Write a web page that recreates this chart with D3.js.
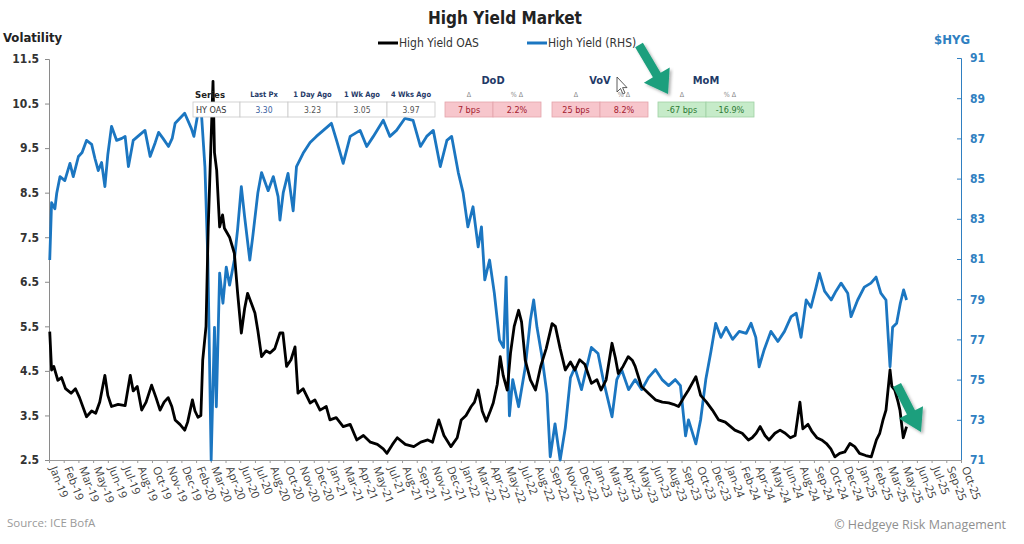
<!DOCTYPE html>
<html>
<head>
<meta charset="utf-8">
<script src="https://cdn.jsdelivr.net/npm/d3@7"></script>
<style>
  body { margin: 0; background: #fff; }
  svg { display: block; }
  .cond { font-family: "Liberation Sans Narrow", "DejaVu Sans Condensed", Roboto, sans-serif; }
  .reg { font-family: "Open Sans", "Noto Sans", sans-serif; }
</style>
</head>
<body>
<script>
const width = 1024;
const height = 544;

// High Yield OAS (left axis)
const oasData = [
  ["2019-01-04",5.38],["2019-01-09",4.52],["2019-01-15",4.6],["2019-01-26",4.29],["2019-02-05",4.35],
  ["2019-02-16",4.1],["2019-03-03",4.0],["2019-03-15",4.1],["2019-03-26",3.9],["2019-04-14",3.47],
  ["2019-04-28",3.6],["2019-05-09",3.55],["2019-05-20",3.8],["2019-06-03",4.4],["2019-06-11",3.95],
  ["2019-06-21",3.7],["2019-07-09",3.75],["2019-07-28",3.72],["2019-08-11",4.4],["2019-08-19",4.05],
  ["2019-08-30",4.15],["2019-09-11",3.62],["2019-09-23",3.8],["2019-10-08",4.18],["2019-10-20",3.9],
  ["2019-10-31",3.62],["2019-11-11",3.8],["2019-11-22",3.9],["2019-12-02",3.7],["2019-12-11",3.4],
  ["2019-12-24",3.3],["2020-01-06",3.17],["2020-01-14",3.35],["2020-01-27",3.85],["2020-02-03",3.6],
  ["2020-02-11",3.46],["2020-02-19",3.5],["2020-02-24",4.74],["2020-03-04",5.5],["2020-03-10",7.73],
  ["2020-03-17",9.5],["2020-03-23",11.0],["2020-03-27",9.4],["2020-04-02",9.0],["2020-04-10",7.73],
  ["2020-04-18",8.0],["2020-04-23",7.7],["2020-05-07",7.5],["2020-05-20",7.14],["2020-05-29",6.24],
  ["2020-06-08",5.35],["2020-06-17",5.9],["2020-06-25",6.24],["2020-07-06",6.0],["2020-07-15",5.8],
  ["2020-07-23",5.4],["2020-08-02",4.82],["2020-08-14",4.95],["2020-08-25",4.9],["2020-09-07",5.0],
  ["2020-09-21",5.35],["2020-09-29",5.35],["2020-10-09",4.6],["2020-10-21",4.75],["2020-11-01",5.04],
  ["2020-11-09",4.0],["2020-11-23",4.1],["2020-12-12",3.78],["2020-12-25",3.85],["2021-01-08",3.62],
  ["2021-01-25",3.7],["2021-02-04",3.4],["2021-02-21",3.45],["2021-03-12",3.25],["2021-03-31",3.3],
  ["2021-04-18",2.95],["2021-05-06",3.05],["2021-05-25",2.9],["2021-06-13",2.85],["2021-06-29",2.75],
  ["2021-07-09",2.65],["2021-07-24",2.85],["2021-08-06",3.0],["2021-08-28",2.85],["2021-09-20",2.8],
  ["2021-10-09",2.9],["2021-10-28",2.95],["2021-11-10",2.9],["2021-11-27",3.4],["2021-12-11",3.05],
  ["2021-12-30",2.8],["2022-01-16",3.0],["2022-01-27",3.4],["2022-02-09",3.5],["2022-02-23",3.7],
  ["2022-03-04",3.8],["2022-03-14",4.07],["2022-03-25",3.6],["2022-04-05",3.37],["2022-04-16",3.6],
  ["2022-04-24",3.78],["2022-05-05",4.2],["2022-05-13",4.82],["2022-05-21",4.4],["2022-06-01",4.07],
  ["2022-06-10",4.9],["2022-06-20",5.5],["2022-07-02",5.86],["2022-07-10",5.6],["2022-07-20",4.74],
  ["2022-08-03",4.3],["2022-08-17",4.07],["2022-08-31",4.6],["2022-09-15",5.0],["2022-10-01",5.56],
  ["2022-10-10",5.5],["2022-10-23",5.0],["2022-11-06",4.52],["2022-11-20",4.7],["2022-12-02",4.52],
  ["2022-12-15",4.75],["2022-12-29",4.65],["2023-01-16",4.22],["2023-01-31",4.3],["2023-02-11",4.07],
  ["2023-02-25",4.3],["2023-03-13",5.12],["2023-03-22",4.8],["2023-03-30",4.44],["2023-04-12",4.6],
  ["2023-04-26",4.82],["2023-05-07",4.74],["2023-05-15",4.6],["2023-06-01",4.15],["2023-06-20",4.0],
  ["2023-07-09",3.85],["2023-07-28",3.8],["2023-08-14",3.78],["2023-08-27",3.75],["2023-09-10",3.7],
  ["2023-09-24",3.9],["2023-10-07",4.07],["2023-10-27",4.37],["2023-11-09",3.95],["2023-11-25",3.8],
  ["2023-12-11",3.62],["2023-12-28",3.4],["2024-01-15",3.35],["2024-02-10",3.17],["2024-03-01",3.1],
  ["2024-03-18",2.95],["2024-03-28",3.0],["2024-04-08",3.1],["2024-04-19",3.25],["2024-05-02",3.05],
  ["2024-05-13",2.95],["2024-05-29",3.1],["2024-06-12",3.17],["2024-06-26",3.1],["2024-07-10",3.0],
  ["2024-07-23",3.05],["2024-08-05",3.8],["2024-08-13",3.2],["2024-08-27",3.3],["2024-09-06",3.15],
  ["2024-09-20",3.0],["2024-10-03",2.95],["2024-10-16",2.87],["2024-10-28",2.75],["2024-11-08",2.57],
  ["2024-11-21",2.65],["2024-12-05",2.68],["2024-12-19",2.87],["2025-01-01",2.8],["2025-01-14",2.65],
  ["2025-01-31",2.6],["2025-02-15",2.57],["2025-03-01",2.95],["2025-03-10",3.1],["2025-03-19",3.4],
  ["2025-03-27",3.62],["2025-04-07",4.52],["2025-04-12",4.15],["2025-04-20",4.07],["2025-04-29",3.8],
  ["2025-05-04",3.62],["2025-05-13",3.0],["2025-05-22",3.25]
];

// HYG price (right axis)
const hygData = [
  ["2019-01-04",80.95],["2019-01-09",83.8],["2019-01-18",83.5],["2019-01-23",84.27],["2019-02-01",85.1],
  ["2019-02-14",84.9],["2019-02-28",85.76],["2019-03-09",85.1],["2019-03-23",86.1],["2019-04-02",86.3],
  ["2019-04-14",86.9],["2019-04-28",86.7],["2019-05-07",86.0],["2019-05-16",85.4],["2019-05-25",85.8],
  ["2019-06-03",84.6],["2019-06-11",86.2],["2019-06-21",87.6],["2019-07-05",86.9],["2019-07-19",87.0],
  ["2019-07-28",87.1],["2019-08-06",85.6],["2019-08-19",86.9],["2019-09-07",87.2],["2019-09-20",87.4],
  ["2019-10-04",86.1],["2019-10-18",86.8],["2019-10-27",87.3],["2019-11-08",87.0],["2019-11-23",86.6],
  ["2019-12-03",87.0],["2019-12-11",87.75],["2019-12-24",88.0],["2020-01-06",88.25],["2020-01-24",87.5],
  ["2020-01-31",87.1],["2020-02-11",88.25],["2020-02-21",88.1],["2020-03-01",85.6],["2020-03-09",80.95],
  ["2020-03-18",71.0],["2020-03-22",74.0],["2020-03-27",77.6],["2020-04-01",73.65],["2020-04-10",80.3],
  ["2020-04-19",78.8],["2020-04-28",80.6],["2020-05-07",79.7],["2020-05-20",80.95],["2020-05-29",82.5],
  ["2020-06-08",84.6],["2020-06-17",83.1],["2020-07-01",80.95],["2020-07-09",82.1],["2020-07-23",84.3],
  ["2020-08-02",85.3],["2020-08-20",84.4],["2020-09-03",85.1],["2020-09-16",84.1],["2020-09-21",82.94],
  ["2020-09-30",84.3],["2020-10-13",85.26],["2020-10-27",83.4],["2020-11-05",85.6],["2020-11-23",86.26],
  ["2020-12-12",86.8],["2020-12-29",87.1],["2021-01-17",87.4],["2021-02-08",87.75],["2021-02-22",86.9],
  ["2021-03-12",85.76],["2021-03-31",87.1],["2021-04-27",87.4],["2021-05-15",86.6],["2021-06-02",87.1],
  ["2021-06-29",87.9],["2021-07-17",87.1],["2021-08-04",87.4],["2021-08-27",88.0],["2021-09-18",87.9],
  ["2021-10-08",86.6],["2021-10-25",87.1],["2021-11-12",87.4],["2021-12-01",85.6],["2021-12-19",86.9],
  ["2022-01-01",87.1],["2022-01-19",85.3],["2022-02-01",84.3],["2022-02-14",82.6],["2022-02-28",83.6],
  ["2022-03-14",81.6],["2022-03-23",82.6],["2022-04-01",79.96],["2022-04-14",80.95],["2022-04-27",79.3],
  ["2022-05-11",76.97],["2022-05-22",76.6],["2022-05-29",80.1],["2022-06-07",73.2],["2022-06-16",75.0],
  ["2022-07-02",73.65],["2022-07-20",75.6],["2022-08-03",77.96],["2022-08-12",78.96],["2022-08-21",77.6],
  ["2022-09-03",76.2],["2022-09-17",74.3],["2022-09-26",71.16],["2022-10-09",72.8],["2022-10-23",71.0],
  ["2022-11-06",72.6],["2022-11-20",75.1],["2022-12-02",75.6],["2022-12-20",74.5],["2023-01-03",75.6],
  ["2023-01-16",76.6],["2023-02-03",76.3],["2023-02-17",75.0],["2023-03-13",73.15],["2023-03-26",75.0],
  ["2023-04-08",75.5],["2023-04-27",74.5],["2023-05-15",75.0],["2023-06-02",74.5],["2023-06-20",75.1],
  ["2023-07-09",75.5],["2023-07-27",75.0],["2023-08-14",74.7],["2023-09-01",75.0],["2023-09-15",74.7],
  ["2023-09-29",72.2],["2023-10-07",73.0],["2023-10-27",71.8],["2023-11-09",73.0],["2023-11-23",75.0],
  ["2023-12-07",76.4],["2023-12-20",77.8],["2024-01-03",77.1],["2024-01-17",77.6],["2024-02-04",77.0],
  ["2024-02-22",77.4],["2024-03-12",77.3],["2024-03-25",77.8],["2024-04-07",77.1],["2024-04-16",75.64],
  ["2024-04-30",76.5],["2024-05-18",77.4],["2024-06-06",76.9],["2024-06-24",77.4],["2024-07-12",78.13],
  ["2024-07-26",78.3],["2024-08-08",77.1],["2024-08-22",78.96],["2024-09-04",78.6],["2024-09-18",79.6],
  ["2024-09-27",80.29],["2024-10-11",79.4],["2024-10-29",78.96],["2024-11-11",79.4],["2024-11-25",79.8],
  ["2024-12-13",79.3],["2024-12-22",78.13],["2025-01-09",78.96],["2025-01-27",79.6],["2025-02-14",79.8],
  ["2025-02-28",80.1],["2025-03-13",79.3],["2025-03-27",78.96],["2025-04-07",75.64],["2025-04-14",77.6],
  ["2025-04-25",77.8],["2025-05-05",78.8],["2025-05-14",79.46],["2025-05-22",78.96]
];

// axis ticks
const leftTicks = [2.5, 3.5, 4.5, 5.5, 6.5, 7.5, 8.5, 9.5, 10.5, 11.5];
const rightTicks = [71, 73, 75, 77, 79, 81, 83, 85, 87, 89, 91];
const xStart = "2019-01-02";
const xEnd = "2025-10-17";
const xTickStepDays = 40;

// stats table
const tableHeads = ["Last Px", "1 Day Ago", "1 Wk Ago", "4 Wks Ago"];
const tableVals = ["3.30", "3.23", "3.05", "3.97"];
const changeNames = ["DoD", "VoV", "MoM"];
const changeBps = ["7 bps", "25 bps", "-67 bps"];
const changePct = ["2.2%", "8.2%", "-16.9%"];

const parse = d3.timeParse("%Y-%m-%d");
const oas = oasData.map(d => ({date: parse(d[0]), value: d[1]}));
const hyg = hygData.map(d => ({date: parse(d[0]), value: d[1]}));

const svg = d3.select("body")
  .append("svg")
  .attr("width", width)
  .attr("height", height);

const defs = svg.append("defs");
defs.append("filter").attr("id", "shadow")
  .append("feDropShadow")
  .attr("dx", 2).attr("dy", 2).attr("stdDeviation", 1.5)
  .attr("flood-color", "#000").attr("flood-opacity", 0.3);

const x = d3.scaleTime().domain([parse(xStart), parse(xEnd)]).range([49, 961]);
const yL = d3.scaleLinear().domain([2.5, 11.5]).range([460, 59]);
const yR = d3.scaleLinear().domain([71, 91]).range([460, 58]);

const blue = "#1b76c1";
const axisBlue = "#2f7fc1";

// title, axis titles, legend
svg.append("text").attr("class", "cond")
  .attr("x", 505).attr("y", 24)
  .attr("text-anchor", "middle")
  .attr("font-size", 17).attr("font-weight", "bold").attr("fill", "#222")
  .text("High Yield Market");

svg.append("text").attr("class", "cond")
  .attr("x", 3).attr("y", 42)
  .attr("font-size", 13).attr("font-weight", "bold").attr("fill", "#222")
  .text("Volatility");

svg.append("text").attr("class", "cond")
  .attr("x", 934).attr("y", 44)
  .attr("font-size", 13).attr("font-weight", "bold").attr("fill", axisBlue)
  .text("$HYG");

const legend = [
  {label: "High Yield OAS", color: "#000", x: 378},
  {label: "High Yield (RHS)", color: blue, x: 527}
];
legend.forEach(function(l) {
  svg.append("line")
    .attr("x1", l.x).attr("x2", l.x + 20)
    .attr("y1", 43).attr("y2", 43)
    .attr("stroke", l.color).attr("stroke-width", 3);
  svg.append("text").attr("class", "cond")
    .attr("x", l.x + 21).attr("y", 47)
    .attr("font-size", 12).attr("fill", "#333")
    .text(l.label);
});

// left axis
const leftAxis = svg.append("g")
  .attr("transform", "translate(49,0)")
  .call(d3.axisLeft(yL).tickValues(leftTicks).tickSize(4).tickFormat(d3.format(".1f")));
leftAxis.select(".domain").attr("stroke", "#8a8a8a");
leftAxis.selectAll(".tick line").attr("stroke", "#8a8a8a");
leftAxis.selectAll(".tick text").attr("class", "cond")
  .attr("x", -10).attr("font-size", 12).attr("font-weight", "bold").attr("fill", "#333");

// right axis
const rightAxis = svg.append("g")
  .attr("transform", "translate(961,0)")
  .call(d3.axisRight(yR).tickValues(rightTicks).tickSize(-4));
rightAxis.select(".domain").attr("stroke", axisBlue);
rightAxis.selectAll(".tick line").attr("stroke", axisBlue);
rightAxis.selectAll(".tick text").attr("class", "cond")
  .attr("x", 9).attr("font-size", 12).attr("font-weight", "bold").attr("fill", axisBlue);

// bottom axis, ticks every 40 days like the source
const xTicks = d3.range(0, 63).map(i => d3.timeDay.offset(parse(xStart), i * xTickStepDays));
const bottomAxis = svg.append("g")
  .attr("transform", "translate(0,460)")
  .call(d3.axisBottom(x).tickValues(xTicks).tickSize(3).tickFormat(d3.timeFormat("%b-%y")));
bottomAxis.select(".domain").attr("stroke", "#9a9a9a");
bottomAxis.selectAll(".tick line").attr("stroke", "#9a9a9a");
bottomAxis.selectAll(".tick text").attr("class", "reg")
  .attr("font-size", 11.2).attr("fill", "#3a3a3a")
  .attr("text-anchor", "start")
  .attr("dy", "0.35em")
  .attr("transform", "translate(3,5) rotate(69)")
  .attr("x", 2).attr("y", 0);

// lines
const lineR = d3.line().x(d => x(d.date)).y(d => yR(d.value));
const lineL = d3.line().x(d => x(d.date)).y(d => yL(d.value));

svg.append("path").datum(hyg)
  .attr("d", lineR)
  .attr("fill", "none").attr("stroke", blue)
  .attr("stroke-width", 2.8).attr("stroke-linejoin", "round");

svg.append("path").datum(oas)
  .attr("d", lineL)
  .attr("fill", "none").attr("stroke", "#000")
  .attr("stroke-width", 2.8).attr("stroke-linejoin", "round");

// stats table
const tbl = svg.append("g").attr("class", "tbl");
const cellX = [193, 240, 288, 337, 387, 435];
tbl.append("text").attr("class", "cond")
  .attr("x", 195).attr("y", 98)
  .attr("font-size", 9.5).attr("font-weight", "bold").attr("fill", "#222")
  .text("Series");
tbl.selectAll("rect.c").data(d3.range(5)).enter().append("rect")
  .attr("x", i => cellX[i]).attr("y", 102)
  .attr("width", i => cellX[i + 1] - cellX[i]).attr("height", 15)
  .attr("fill", "#fff").attr("stroke", "#c8c8c8").attr("stroke-width", 0.8);
tbl.append("text").attr("class", "cond")
  .attr("x", 196).attr("y", 113)
  .attr("font-size", 9).attr("fill", "#333")
  .text("HY OAS");
tableHeads.forEach(function(h, i) {
  const cx = (cellX[i + 1] + cellX[i + 2]) / 2;
  tbl.append("text").attr("class", "cond")
    .attr("x", cx).attr("y", 97).attr("text-anchor", "middle")
    .attr("font-size", 7.5).attr("font-weight", "bold").attr("fill", "#1f3a68")
    .text(h);
  tbl.append("text").attr("class", "cond")
    .attr("x", cx).attr("y", 113).attr("text-anchor", "middle")
    .attr("font-size", 8.5).attr("fill", i === 0 ? "#3a5fa0" : "#555")
    .text(tableVals[i]);
});

const groupX = [445, 552, 658];
const groupW = 96;
changeNames.forEach(function(name, i) {
  const gx = groupX[i];
  const good = changeBps[i].charAt(0) === "-";
  const fill = good ? "#c6ebc9" : "#f7c6cc";
  const stroke = good ? "#9fd0a4" : "#e3a3ab";
  const txt = good ? "#2d7a35" : "#a3202f";
  tbl.append("text").attr("class", "cond")
    .attr("x", gx + groupW / 2).attr("y", 84).attr("text-anchor", "middle")
    .attr("font-size", 11).attr("font-weight", "bold").attr("fill", "#1f3a68")
    .text(name);
  [changeBps[i], changePct[i]].forEach(function(v, j) {
    const cx = gx + j * groupW / 2;
    tbl.append("rect")
      .attr("x", cx).attr("y", 102)
      .attr("width", groupW / 2).attr("height", 15)
      .attr("fill", fill).attr("stroke", stroke).attr("stroke-width", 0.8);
    tbl.append("text").attr("class", "cond")
      .attr("x", cx + groupW / 4).attr("y", 97).attr("text-anchor", "middle")
      .attr("font-size", 7).attr("fill", "#888")
      .text(j === 0 ? "\u0394" : "% \u0394");
    tbl.append("text").attr("class", "cond")
      .attr("x", cx + groupW / 4).attr("y", 113).attr("text-anchor", "middle")
      .attr("font-size", 9).attr("fill", txt)
      .text(v);
  });
});

// green annotation arrows
function arrowPath(tail, tip, shaft, headW, headL) {
  const dx = tip[0] - tail[0], dy = tip[1] - tail[1];
  const len = Math.sqrt(dx * dx + dy * dy);
  const ux = dx / len, uy = dy / len, nx = -uy, ny = ux;
  const bx = tip[0] - ux * headL, by = tip[1] - uy * headL;
  const p = [
    [tail[0] + nx * shaft / 2, tail[1] + ny * shaft / 2],
    [bx + nx * shaft / 2, by + ny * shaft / 2],
    [bx + nx * headW / 2, by + ny * headW / 2],
    tip,
    [bx - nx * headW / 2, by - ny * headW / 2],
    [bx - nx * shaft / 2, by - ny * shaft / 2],
    [tail[0] - nx * shaft / 2, tail[1] - ny * shaft / 2]
  ];
  return "M" + p.map(q => q.join(",")).join("L") + "Z";
}
const arrows = [
  {tail: [639, 45], tip: [668, 94], shaft: 9, headW: 30, headL: 22},
  {tail: [897, 385], tip: [921, 432], shaft: 9, headW: 27, headL: 22}
];
svg.selectAll("path.arrow").data(arrows).enter().append("path")
  .attr("class", "arrow")
  .attr("d", a => arrowPath(a.tail, a.tip, a.shaft, a.headW, a.headL))
  .attr("fill", "#1c9f7d")
  .attr("filter", "url(#shadow)");

// mouse pointer near VoV
svg.append("path")
  .attr("d", "M617,77 L617,92 L620.5,88.5 L623,94 L625,93 L622.6,87.6 L627,87.6 Z")
  .attr("fill", "#fff").attr("stroke", "#333").attr("stroke-width", 0.8);

// footer
svg.append("text").attr("class", "reg")
  .attr("x", 7).attr("y", 527)
  .attr("font-size", 11.5).attr("fill", "#9a9a9a")
  .text("Source: ICE BofA");
svg.append("text").attr("class", "reg")
  .attr("x", 1006).attr("y", 529).attr("text-anchor", "end")
  .attr("font-size", 12.5).attr("fill", "#8f8f8f")
  .text("\u00a9 Hedgeye Risk Management");
</script>
</body>
</html>
